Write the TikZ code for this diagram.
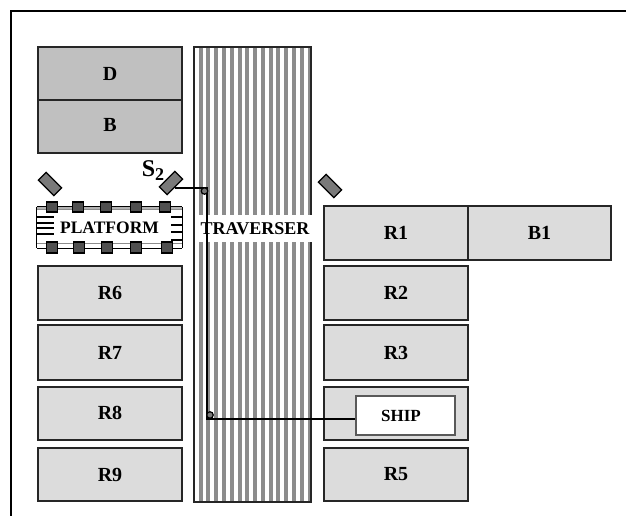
\documentclass[tikz,border=0pt]{standalone}
\usepackage{fontspec}
\setmainfont{Liberation Serif}
\definecolor{bay}{HTML}{DCDCDC}
\definecolor{dark}{HTML}{C0C0C0}
\definecolor{stripe}{HTML}{8C8C8C}
\definecolor{sens}{HTML}{7A7A7A}
\definecolor{post}{HTML}{505050}
\tikzset{
  lbl/.style={font=\fontsize{#1}{#1}\selectfont\bfseries},
  room/.style={draw=black!85,line width=1.3pt,fill=bay,minimum width=144pt,minimum height=54pt,inner sep=0pt,lbl=20},
  darkroom/.style={room,fill=dark,minimum height=53pt},
  sensor/.style={draw=black,line width=1.3pt,fill=sens,minimum width=22pt,minimum height=11pt,inner sep=0pt},
  post/.style={draw=black,line width=1.1pt,fill=post,minimum width=11pt,minimum height=10pt,inner sep=0pt},
  wire/.style={draw=black,line width=2.6pt},
  pivot/.style={draw=black,line width=1.2pt,fill=sens,circle,minimum size=6.5pt,inner sep=0pt},
  tick/.style={draw=black,line width=1.3pt}
}
\begin{document}
\begin{tikzpicture}[x=1pt,y=-1pt]
\useasboundingbox (0,0) rectangle (626,516);
\fill[white] (0,0) rectangle (626,516);
% frame
\draw[line width=2.6pt] (11,516) -- (11,11) -- (626,11);
% left column
\node[darkroom] (D) at (110,73.5) {D};
\node[darkroom] (B) at (110,126.5) {\raisebox{3pt}{B}};
\node[room] (R6) at (110,293) {R6};
\node[room,minimum height=55pt] (R7) at (110,352.5) {R7};
\node[room,minimum height=53pt] (R8) at (110,413.5) {\raisebox{2pt}{R8}};
\node[room,minimum height=53pt] (R9) at (110,474.5) {R9};
% traverser
\fill[white] (194,47) rectangle (311,502);
\foreach \i in {0,...,14} \fill[stripe] ({198.6+7.78*\i},47) rectangle ({202.6+7.78*\i},502);
\draw[line width=1.3pt,black!85] (194,47) rectangle (311,502);
\node[fill=white,inner sep=0pt,minimum width=115pt,minimum height=27pt,lbl=18] (T) at (255,228.5) {TRAVERSER};
% right column
\node[room] (R1) at (396,233) {R1};
\node[room,minimum width=143pt] (B1) at (539.5,233) {B1};
\node[room] (R2) at (396,293) {R2};
\node[room,minimum height=55pt] (R3) at (396,352.5) {R3};
\node[room,minimum height=53pt] (R4) at (396,413.5) {};
\node[room,minimum height=53pt] (R5) at (396,474.5) {R5};
\node[draw=black!65,line width=1.1pt,fill=white,minimum width=99pt,minimum height=39pt,inner sep=0pt,lbl=17] (ship) at (405.5,415.5) {SHIP\kern9pt};
% platform
\node[fill=white,minimum width=145pt,minimum height=41pt,inner sep=0pt,lbl=17.5] (P) at (109.5,227.5) {PLATFORM};
\fill[black!30] (P.north west) rectangle ([yshift=-3pt]P.north east);
\draw[tick] (P.north west) -- (P.north east);
\draw[tick,black!45] ([yshift=-3pt]P.north west) -- ([yshift=-3pt]P.north east);
\draw[tick] (P.south west) -- (P.south east);
\draw[tick,black!45] ([yshift=5pt]P.south west) -- ([yshift=5pt]P.south east);
\draw[tick] (P.north west) -- (P.south west);
\draw[tick] (P.north east) -- (P.south east);
\foreach \y in {217,223,228,234} \draw[tick] (P.west |- 0,\y) -- (54,\y);
\foreach \y in {217,225,232,240} \draw[tick] (171,\y) -- (P.east |- 0,\y);
\foreach \x [count=\n] in {52,78,106,136,165} \node[post] (pt\n) at (\x,207) {};
\foreach \x [count=\n] in {52,79,107,136,167} \node[post,minimum height=11pt] (pb\n) at (\x,247.5) {};
% sensors
\node[sensor,rotate=-45] (s1) at (50,184) {};
\node[sensor,rotate=45] (s2) at (171,183) {};
\node[sensor,rotate=-45] (s3) at (330,186) {};
\node[lbl=24,inner sep=0pt] (S2lab) at (153,171) {S\kern0pt\raisebox{-4pt}{\fontsize{18}{18}\selectfont 2}};
% connector
\coordinate (j1) at (207,188);
\coordinate (j2) at (207,419);
\draw[wire] (s2.south |- j1) -- (j1) -- (j2) -- (ship.west |- j2);
\node[pivot] (c1) at (204.5,191) {};
\node[pivot] (c2) at (210,415) {};
\end{tikzpicture}
\end{document}
